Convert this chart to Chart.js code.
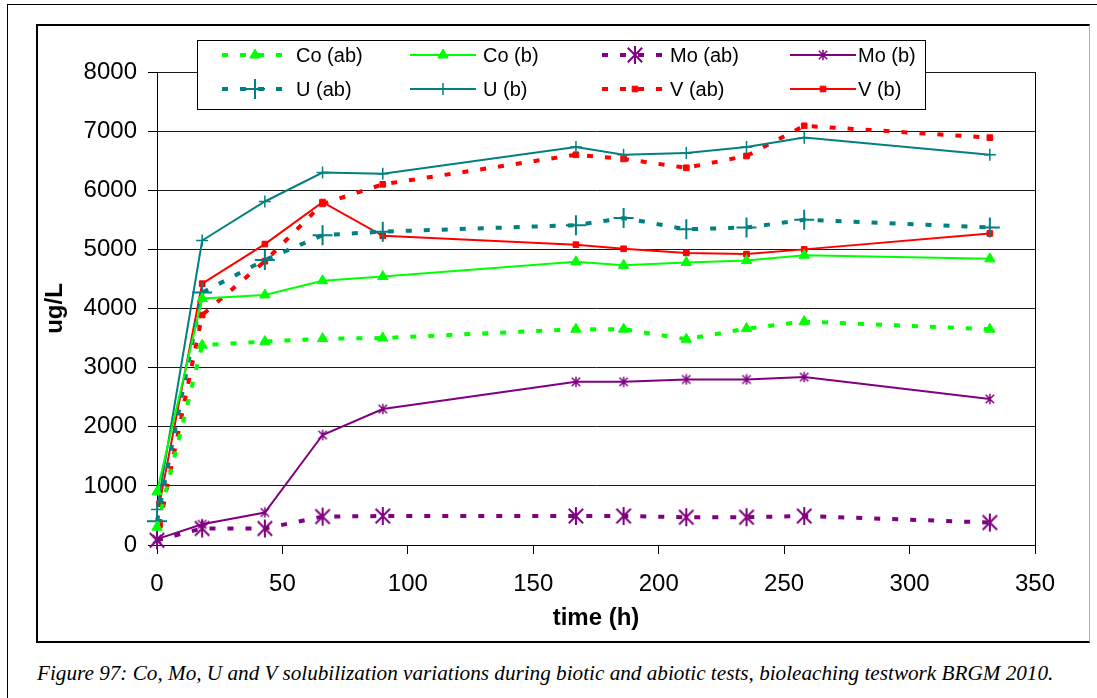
<!DOCTYPE html>
<html>
<head>
<meta charset="utf-8">
<title>Co, Mo, U, V solubilization</title>
<script src="https://cdn.jsdelivr.net/npm/chart.js@4/dist/chart.umd.min.js"></script>
<style>
  html, body { margin: 0; padding: 0; background: #fff; overflow: hidden; }
  body { width: 1097px; height: 698px; position: relative; }
  #sheet { position: absolute; left: 7px; top: 4px; width: 1100px; height: 710px;
           border-left: 1px solid #000; border-top: 1px solid #000; }
  #frame { position: absolute; left: 36px; top: 24px; width: 1051px; height: 615px;
           border: 2px solid #000; border-right: 1px solid #b0b0b0; }
  #frame canvas { display: block; }
  #caption { position: absolute; left: 37px; top: 661px; white-space: nowrap;
             font: italic 21.2px "Liberation Serif", "Times New Roman", serif; color: #000; }
</style>
</head>
<body>
<div id="sheet"></div>
<div id="frame"><canvas id="leachChart" width="1051" height="615"></canvas></div>
<div id="caption">Figure 97: Co, Mo, U and V solubilization variations during biotic and abiotic tests, bioleaching testwork BRGM 2010.</div>
<script>
// sampling times (h); V was sampled an hour later at the start
const hours = [0, 18, 43, 66, 90, 167, 186, 211, 235, 258, 332];
const hoursV = [1, 18, 43, 66, 90, 167, 186, 211, 235, 258, 332];

// concentrations in ug/L, abiotic (ab) and biotic (b)
const coAb = [300, 3380, 3440, 3490, 3500, 3650, 3650, 3480, 3660, 3780, 3650];
const coB = [900, 4170, 4230, 4470, 4540, 4790, 4730, 4780, 4810, 4900, 4840];
const moAb = [80, 280, 280, 480, 490, 490, 490, 470, 470, 490, 380];
const moB = [100, 350, 550, 1860, 2300, 2760, 2760, 2800, 2800, 2840, 2470];
const uAb = [400, 4270, 4820, 5240, 5300, 5410, 5530, 5340, 5370, 5500, 5370];
const uB = [600, 5150, 5810, 6300, 6280, 6730, 6600, 6630, 6730, 6890, 6600];
const vAb = [340, 3890, 4800, 5770, 6100, 6600, 6530, 6380, 6580, 7090, 6890];
const vB = [700, 4420, 5090, 5800, 5230, 5080, 5010, 4940, 4920, 5000, 5270];

const seriesNames = ["Co (ab)", "Co (b)", "Mo (ab)", "Mo (b)", "U (ab)", "U (b)", "V (ab)", "V (b)"];

// axis ticks
const xTicks = [0, 50, 100, 150, 200, 250, 300, 350];
const yTicks = [0, 1000, 2000, 3000, 4000, 5000, 6000, 7000, 8000];

const GREEN = "#00ff00";
const PURPLE = "#800080";
const TEAL = "#008080";
const RED = "#ff0000";
const FONT = "'Liberation Sans', Arial, sans-serif";

// asterisk marker: an X with a vertical bar
function starMarker(size, lw, color) {
  const c = document.createElement("canvas");
  c.width = c.height = size;
  const g = c.getContext("2d");
  g.strokeStyle = color;
  g.lineWidth = lw;
  const m = size / 2;
  const r = m - lw / 2;
  const d = r * 0.8;
  g.beginPath();
  g.moveTo(m, m - r); g.lineTo(m, m + r);
  g.moveTo(m - d, m - d); g.lineTo(m + d, m + d);
  g.moveTo(m + d, m - d); g.lineTo(m - d, m + d);
  g.stroke();
  return c;
}

function points(xs, ys) {
  return ys.map((y, i) => ({ x: xs[i], y: y }));
}

function series(label, xs, ys, color, dashed, style, radius, bw) {
  return {
    label: label,
    data: points(xs, ys),
    borderColor: color,
    backgroundColor: color,
    borderWidth: dashed ? 4 : 2,
    borderDash: dashed ? [6, 12] : [],
    borderCapStyle: "butt",
    pointStyle: style,
    pointRadius: radius,
    pointBorderWidth: bw,
    pointBackgroundColor: color,
    pointBorderColor: color,
    tension: 0,
    fill: false,
    clip: false,
  };
}

const datasets = [
  series(seriesNames[0], hours, coAb, GREEN, true, "triangle", 6, 1),
  series(seriesNames[1], hours, coB, GREEN, false, "triangle", 6, 1),
  series(seriesNames[2], hours, moAb, PURPLE, true, starMarker(20, 2, PURPLE), 10, 0),
  series(seriesNames[3], hours, moB, PURPLE, false, starMarker(12, 1.5, PURPLE), 6, 0),
  series(seriesNames[4], hours, uAb, TEAL, true, "cross", 10, 2),
  series(seriesNames[5], hours, uB, TEAL, false, "cross", 6, 1.5),
  series(seriesNames[6], hoursV, vAb, RED, true, "rect", 4, 1),
  series(seriesNames[7], hoursV, vB, RED, false, "rect", 4, 1),
];

// right-hand edge of the plot area
const plotBorder = {
  id: "plotBorder",
  beforeDatasetsDraw(chart) {
    const { ctx, chartArea } = chart;
    ctx.save();
    ctx.strokeStyle = "#000";
    ctx.lineWidth = 1;
    ctx.beginPath();
    ctx.moveTo(Math.round(chartArea.right) + 0.5, chartArea.top);
    ctx.lineTo(Math.round(chartArea.right) + 0.5, chartArea.bottom);
    ctx.stroke();
    ctx.restore();
  },
};

// boxed legend, 4 columns x 2 rows, line sample with marker
const legendLayout = {
  left: 159, top: 14, width: 728, height: 69,
  rows: [29, 63],
  sampleX: [184, 372, 564, 752],
  sampleLen: 66,
  textX: [258, 445, 632, 820],
};

function drawMarker(ctx, ds, x, y) {
  ctx.fillStyle = ds.pointBackgroundColor;
  ctx.strokeStyle = ds.pointBorderColor;
  ctx.lineWidth = ds.pointBorderWidth;
  ctx.setLineDash([]);
  if (typeof ds.pointStyle !== "string") {
    const img = ds.pointStyle;
    ctx.drawImage(img, x - img.width / 2, y - img.height / 2);
    return;
  }
  Chart.helpers.drawPoint(ctx, {
    pointStyle: ds.pointStyle,
    radius: ds.pointRadius,
    rotation: 0,
    borderWidth: ds.pointBorderWidth,
  }, x, y);
}

const boxLegend = {
  id: "boxLegend",
  afterDraw(chart) {
    const ctx = chart.ctx;
    const L = legendLayout;
    ctx.save();
    ctx.fillStyle = "#fff";
    ctx.fillRect(L.left, L.top, L.width, L.height);
    ctx.strokeStyle = "#000";
    ctx.lineWidth = 1;
    ctx.strokeRect(L.left + 0.5, L.top + 0.5, L.width, L.height);
    chart.data.datasets.forEach((ds, i) => {
      const row = Math.floor(i / 4);
      const col = i % 4;
      const y = L.rows[row];
      const x0 = L.sampleX[col];
      ctx.strokeStyle = ds.borderColor;
      ctx.lineWidth = ds.borderWidth;
      ctx.lineCap = "butt";
      ctx.setLineDash(ds.borderDash);
      ctx.beginPath();
      ctx.moveTo(x0, y);
      ctx.lineTo(x0 + L.sampleLen, y);
      ctx.stroke();
      drawMarker(ctx, ds, x0 + L.sampleLen / 2, y);
      ctx.fillStyle = "#000";
      ctx.font = "20px " + FONT;
      ctx.textBaseline = "middle";
      ctx.textAlign = "left";
      ctx.fillText(ds.label, L.textX[col], y + 1);
    });
    ctx.restore();
  },
};

const ctx = document.getElementById("leachChart").getContext("2d");

const config = {
  type: "line",
  data: { datasets: datasets },
  options: {
    responsive: false,
    animation: false,
    events: [],
    layout: { padding: { top: 46, right: 54, bottom: 0, left: 0 } },
    plugins: { legend: { display: false }, tooltip: { enabled: false } },
    scales: {
      x: {
        type: "linear",
        min: xTicks[0],
        max: xTicks[xTicks.length - 1],
        afterBuildTicks: (axis) => { axis.ticks = xTicks.map((v) => ({ value: v })); },
        afterFit: (axis) => { axis.height = 96; },
        ticks: {
          color: "#000", font: { family: FONT, size: 24 }, padding: 16, maxRotation: 0,
          callback: (v) => String(v),
        },
        grid: { drawOnChartArea: false, drawTicks: true, tickLength: 9, color: "#000", tickColor: "#000" },
        border: { color: "#000", width: 1 },
        title: {
          display: true, text: "time (h)", color: "#000",
          font: { family: FONT, size: 24, weight: "bold" },
          padding: { top: 0, bottom: 8 },
        },
      },
      y: {
        min: yTicks[0],
        max: yTicks[yTicks.length - 1],
        afterBuildTicks: (axis) => { axis.ticks = yTicks.map((v) => ({ value: v })); },
        afterFit: (axis) => { axis.width = 119; },
        ticks: {
          color: "#000", font: { family: FONT, size: 24 }, padding: 11,
          callback: (v) => String(v),
        },
        grid: { color: "#1a1a1a", lineWidth: 1, drawTicks: true, tickLength: 9, tickColor: "#000" },
        border: { color: "#000", width: 1 },
        title: {
          display: true, text: "ug/L", color: "#000",
          font: { family: FONT, size: 24, weight: "bold" },
          padding: { top: 3, bottom: 0 },
        },
      },
    },
  },
  plugins: [plotBorder, boxLegend],
};

let leachChart = new Chart(ctx, config);
</script>
</body>
</html>
